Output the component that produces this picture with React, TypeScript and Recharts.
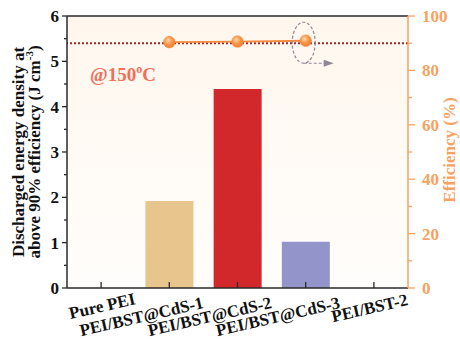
import React from 'react';
import {
  ComposedChart,
  Bar,
  Line,
  XAxis,
  YAxis,
  CartesianGrid,
  ReferenceLine,
  ReferenceDot,
  Cell,
} from 'recharts';

const samples = ['Pure PEI', 'PEI/BST@CdS-1', 'PEI/BST@CdS-2', 'PEI/BST@CdS-3', 'PEI/BST-2'];
const energyDensity = [0, 1.92, 4.39, 1.02, 0];
const efficiency = [null, 90.4, 90.6, 90.9, null];
const barColors = ['#E9C58E', '#E9C58E', '#D3282B', '#9394C9', '#9394C9'];

const leftTicks = [0, 0.5, 1, 1.5, 2, 2.5, 3, 3.5, 4, 4.5, 5, 5.5, 6];
const rightTicks = [0, 10, 20, 30, 40, 50, 60, 70, 80, 90, 100];
const efficiencyLimit = 90;

const data = samples.map((name, i) => ({
  name,
  energy: energyDensity[i],
  eff: efficiency[i],
}));

const FONT = '"Liberation Serif", "Times New Roman", serif';
const ORANGE = '#F9A160';
const DARK = '#2A2A2A';
const serif = { fontFamily: FONT, fontWeight: 700 } as const;

const LeftTick = (props: any) => {
  const { x, y, payload } = props;
  const axisX = x + 8;
  const major = Number.isInteger(payload.value);
  return (
    <g>
      <line x1={axisX} x2={axisX - (major ? 5 : 3)} y1={y} y2={y} stroke={DARK} strokeWidth={1.3} />
      {major && (
        <text x={x} y={y} dy="0.35em" textAnchor="end" style={{ ...serif, fontSize: 17 }} fill="#111">
          {payload.value}
        </text>
      )}
    </g>
  );
};

const RightTick = (props: any) => {
  const { x, y, payload } = props;
  const axisX = x - 14;
  const major = payload.value % 20 === 0;
  return (
    <g>
      <line x1={axisX} x2={axisX + (major ? 7 : 4)} y1={y} y2={y} stroke={ORANGE} strokeWidth={1.3} />
      {major && (
        <text x={x} y={y} dy="0.35em" textAnchor="start" style={{ ...serif, fontSize: 17 }} fill={ORANGE}>
          {payload.value}
        </text>
      )}
    </g>
  );
};

const XTick = (props: any) => {
  const { x, y, payload } = props;
  const label = String(payload.value);
  const tx = x + 35;
  const ty = y + 10 + label.length * 0.75;
  return (
    <g>
      <line x1={x} x2={x} y1={y} y2={y - 6} stroke={DARK} strokeWidth={1.3} />
      <text
        x={tx}
        y={ty}
        textAnchor="end"
        transform={`rotate(-13, ${tx}, ${ty})`}
        style={{ ...serif, fontSize: 17 }}
        fill="#111"
      >
        {label}
      </text>
    </g>
  );
};

const EffDot = (props: any) => {
  const { cx, cy, value } = props;
  if (value == null || cx == null || cy == null) return <g />;
  return <circle cx={cx} cy={cy} r={5.8} fill="url(#dotGrad)" stroke="#F58A3A" strokeWidth={0.6} />;
};

const Highlight = (props: any) => {
  const { cx, cy } = props;
  const ey = cy + 2;
  return (
    <g>
      <ellipse cx={cx - 2} cy={ey} rx={11.5} ry={20.5} fill="none" stroke="#8C8895" strokeWidth={1.2} strokeDasharray="3 2" />
      <line x1={cx - 2} x2={cx + 20} y1={ey + 20.5} y2={ey + 20.5} stroke="#8C8895" strokeWidth={1.2} strokeDasharray="3 2" />
      <path
        d={`M ${cx + 18} ${ey + 17} L ${cx + 28} ${ey + 20.5} L ${cx + 18} ${ey + 24} Z`}
        fill="#8C8895"
      />
    </g>
  );
};

// axis titles and the temperature note, drawn over the chart
const Titles = () => (
  <svg
    width={460}
    height={339}
    style={{ position: 'absolute', left: 0, top: 0, pointerEvents: 'none' }}
  >
    <text transform="rotate(-90)" x={-152} y={24} textAnchor="middle" style={{ ...serif, fontSize: 17 }} fill="#111">
      Discharged energy density at
    </text>
    <text transform="rotate(-90)" x={-152} y={40} textAnchor="middle" style={{ ...serif, fontSize: 17 }} fill="#111">
      above 90% efficiency (J cm
      <tspan style={{ fontSize: 11 }} dy={-7}>-3</tspan>
      <tspan dy={7}>)</tspan>
    </text>
    <text x={90} y={81} style={{ ...serif, fontSize: 19 }} fill="#F0705A">
      @150
      <tspan style={{ fontSize: 12 }} dy={-8}>o</tspan>
      <tspan dy={8}>C</tspan>
    </text>
    <text transform="rotate(-90)" x={-150} y={455} textAnchor="middle" style={{ ...serif, fontSize: 17 }} fill={ORANGE}>
      Efficiency (%)
    </text>
  </svg>
);

export default function App() {
  return (
    <div style={{ position: 'absolute', left: 0, top: 0, width: 460, height: 339 }}>
      <ComposedChart
        width={460}
        height={339}
        data={data}
        margin={{ top: 16, right: 0, left: 0, bottom: 0 }}
        barCategoryGap="15%"
      >
        <defs>
          <linearGradient id="bgGrad" x1="0" y1="0" x2="0" y2="1">
            <stop offset="0%" stopColor="#FFF7EE" />
            <stop offset="100%" stopColor="#FFFDFB" />
          </linearGradient>
          <radialGradient id="dotGrad" cx="0.4" cy="0.35" r="0.7">
            <stop offset="0%" stopColor="#FFD9B0" />
            <stop offset="45%" stopColor="#F99A4E" />
            <stop offset="100%" stopColor="#EE7A2A" />
          </radialGradient>
        </defs>
        <CartesianGrid horizontal={false} vertical={false} fill="url(#bgGrad)" />
        <XAxis
          dataKey="name"
          interval={0}
          height={51}
          tickSize={0}
          tickMargin={0}
          tickLine={false}
          axisLine={{ stroke: DARK, strokeWidth: 1.5 }}
          tick={<XTick />}
        />
        <YAxis
          yAxisId="left"
          domain={[0, 6]}
          ticks={leftTicks}
          interval={0}
          width={67}
          tickSize={5}
          tickMargin={3}
          tickLine={false}
          axisLine={{ stroke: DARK, strokeWidth: 1.5 }}
          tick={<LeftTick />}
        />
        <YAxis
          yAxisId="right"
          orientation="right"
          domain={[0, 100]}
          ticks={rightTicks}
          interval={0}
          width={52}
          tickSize={6}
          tickMargin={8}
          tickLine={false}
          axisLine={{ stroke: ORANGE, strokeWidth: 1.5 }}
          tick={<RightTick />}
        />
        <ReferenceLine yAxisId="left" y={6} stroke={DARK} strokeWidth={1.5} />
        <Bar yAxisId="left" dataKey="energy" isAnimationActive={false}>
          {data.map((d, i) => (
            <Cell key={d.name} fill={barColors[i]} />
          ))}
        </Bar>
        <ReferenceLine
          yAxisId="right"
          y={efficiencyLimit}
          stroke="#9B2A2F"
          strokeWidth={2}
          strokeDasharray="2 2"
        />
        <Line
          yAxisId="right"
          dataKey="eff"
          stroke="#F5893F"
          strokeWidth={1.8}
          dot={<EffDot />}
          activeDot={false}
          isAnimationActive={false}
        />
        <ReferenceDot
          yAxisId="right"
          x={samples[3]}
          y={efficiency[3] as number}
          shape={<Highlight />}
        />
      </ComposedChart>
      <Titles />
    </div>
  );
}
